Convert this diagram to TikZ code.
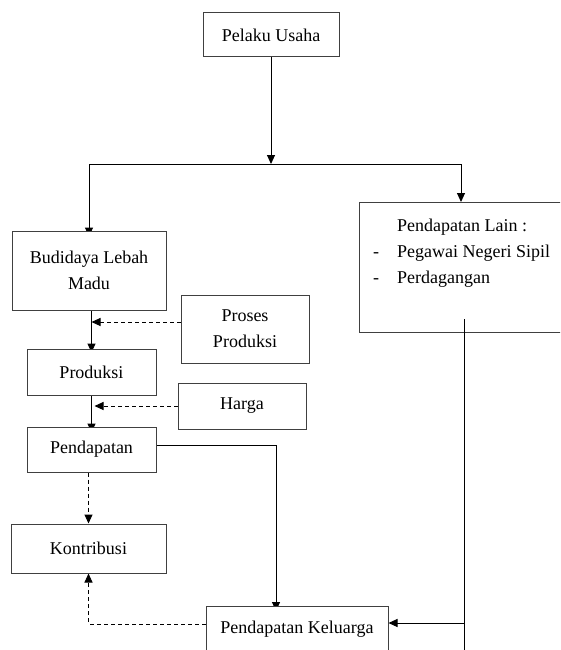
\documentclass[tikz,border=0pt]{standalone}
\usepackage{fontspec}
\setmainfont{Liberation Serif}
\usetikzlibrary{arrows.meta,backgrounds}

\begin{document}
\begin{tikzpicture}[x=1pt,y=-1pt,
        font=\fontsize{18}{26}\selectfont,
        kotak/.style={draw=black!75, line width=1pt, fill=white, inner sep=0pt, align=center},
        panah/.style={-{Triangle[length=9pt,width=8pt]}, line width=1pt},
        putus/.style={dash pattern=on 4pt off 3pt, line width=0.8pt}]
            \useasboundingbox (0,0) rectangle (560,650);
            \clip (0,0) rectangle (560,650);

            % Top box and the split point below it
            \node[kotak, minimum width=136pt, minimum height=44pt] (pelaku) at (271,35) {Pelaku Usaha};
            \coordinate (cabang) at (271,164);

            % Left column
            \node[kotak, minimum width=154pt, minimum height=79pt] (budidaya) at (89,270.5) {Budidaya Lebah\\Madu};
            \node[kotak, minimum width=129pt, minimum height=46pt] (produksi) at (91.5,372) {Produksi};
            \node[kotak, minimum width=129pt, minimum height=45pt] (pendapatan) at (91.5,449.5) {Pendapatan};
            \node[kotak, minimum width=155pt, minimum height=49pt] (kontribusi) at (88.5,548.5) {Kontribusi};

            % Side inputs
            \node[kotak, minimum width=128pt, minimum height=68pt] (proses) at (245,329) {Proses\\Produksi};
            \node[kotak, minimum width=128pt, minimum height=46pt] (harga) at (242,406) {Harga};

            % Family income (runs off the bottom edge)
            \node[kotak, minimum width=182pt, minimum height=46pt] (keluarga) at (297,629) {Pendapatan Keluarga};

            % Other income (runs off the right edge)
            \node[kotak, fill=none, minimum width=262pt, minimum height=130pt] (lain) at (490,267) {};
            \node[anchor=north west, inner sep=0pt, align=left] (lainisi) at (373,219)
                {\makebox[24pt][l]{}Pendapatan Lain :\\
                 \makebox[24pt][l]{-}Pegawai Negeri Sipil\\
                 \makebox[24pt][l]{-}Perdagangan};
            \coordinate (lainmasuk) at (461,202);
            \coordinate (lainbawah) at (464,319);
            \coordinate (lainkaki) at (464,665);

            % Helper points for the shifted connectors
            \coordinate (prosesujung) at ([yshift=7pt]proses.west);
            \coordinate (pendapatankanan) at ([yshift=4.5pt]pendapatan.east);
            \coordinate (turun) at (276,606);
            \coordinate (keluargakiri) at ([yshift=5pt]keluarga.west);
            \coordinate (keluargakanan) at ([yshift=6pt]keluarga.east);

            % Solid connectors, kept behind the boxes
            \begin{scope}[on background layer]
            \draw[panah] (pelaku) -- (cabang);
            \draw[panah, shorten >=-6pt] (cabang) -| (budidaya);
            \draw[panah] (cabang) -| (lainmasuk);
            \draw[panah, shorten >=-4pt] (produksi.north |- budidaya.south) -- (produksi.north);
            \draw[panah, shorten >=-6pt] (pendapatan.north |- produksi.south) -- (pendapatan.north);
            \draw[panah, shorten >=-5pt] (pendapatankanan) -| (turun);

            % Dashed connectors
            \draw[putus, panah] (prosesujung) -- (prosesujung -| produksi.north);
            \draw[putus, panah] (harga.west) -- ([xshift=3pt]harga.west -| produksi.north);
            \draw[putus, panah] (kontribusi.north |- pendapatan.south) -- (kontribusi.north);
            \draw[putus, panah] (keluargakiri) -| (kontribusi.south);
            \end{scope}

            % Line coming down out of the other-income box
            \draw[line width=1pt] (lainbawah) -- (lainkaki);
            \draw[panah] (keluargakanan -| lainbawah) -- (keluargakanan);
\end{tikzpicture}
\end{document}
